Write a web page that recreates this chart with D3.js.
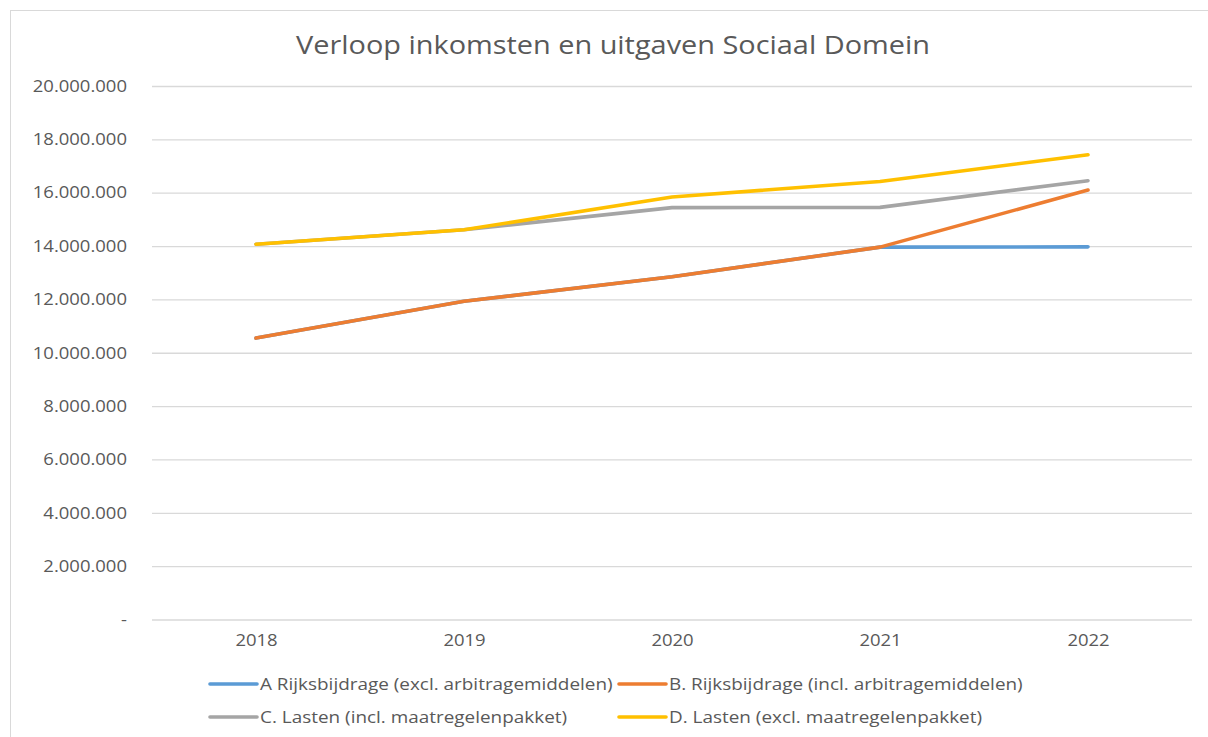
<!DOCTYPE html>
<html>
<head>
<meta charset="utf-8">
<script src="https://cdn.jsdelivr.net/npm/d3@7"></script>
<style>
  body { margin: 0; background: #fff; }
  svg { display: block; font-family: "Open Sans", "Noto Sans", sans-serif; }
</style>
</head>
<body>
<div id="chart"></div>
<script>
const YEARS = ["2018", "2019", "2020", "2021", "2022"];
const SERIES_NAMES = [
    "A Rijksbijdrage (excl. arbitragemiddelen)",
    "B. Rijksbijdrage (incl. arbitragemiddelen)",
    "C. Lasten (incl. maatregelenpakket)",
    "D. Lasten (excl. maatregelenpakket)"
];
const A_VALUES = [10550000, 11930000, 12850000, 13960000, 13970000];
const B_VALUES = [10550000, 11930000, 12850000, 13960000, 16100000];
const C_VALUES = [14070000, 14610000, 15440000, 15450000, 16450000];
const D_VALUES = [14070000, 14610000, 15840000, 16420000, 17420000];
const Y_TICKS = [0, 2000000, 4000000, 6000000, 8000000, 10000000,
                 12000000, 14000000, 16000000, 18000000, 20000000];
const COLORS = ["#5b9bd5", "#ed7d31", "#a5a5a5", "#ffc000"];

const WIDTH = 1208;
const HEIGHT = 737;
const LEFT = 152, RIGHT = 1192, TOP = 86, BOTTOM = 619.5;

// the picture is a bit wider than tall, so text gets stretched sideways
function stretch(sel, factor) {
    sel.each(function() {
        const w = this.getComputedTextLength();
        d3.select(this)
          .attr('textLength', w * factor)
          .attr('lengthAdjust', 'spacingAndGlyphs');
    });
}

const svg = d3.select('#chart')
    .append('svg')
    .attr('width', WIDTH)
    .attr('height', HEIGHT);

// chart area border
svg.append('rect')
   .attr('x', 10.5).attr('y', 10.5)
   .attr('width', WIDTH + 20).attr('height', HEIGHT + 20)
   .attr('fill', 'none')
   .attr('stroke', '#d9d9d9');

const title = svg.append('text')
   .attr('x', 613)
   .attr('y', 54)
   .attr('text-anchor', 'middle')
   .attr('font-size', '25px')
   .attr('fill', '#595959')
   .text('Verloop inkomsten en uitgaven Sociaal Domein');
stretch(title, 1.155);

const xScale = d3.scalePoint()
    .domain(YEARS)
    .range([LEFT, RIGHT])
    .padding(0.5);

const yScale = d3.scaleLinear()
    .domain([0, 20000000])
    .range([BOTTOM, TOP]);

const fmt = (v) => v === 0 ? '-' : d3.format(',')(v).replace(/,/g, '.');

// gridlines + y labels
const yAxis = d3.axisLeft(yScale)
    .tickValues(Y_TICKS)
    .tickSize(-(RIGHT - LEFT))
    .tickPadding(25)
    .tickFormat(fmt);

const yG = svg.append('g')
    .attr('transform', 'translate(' + LEFT + ',0)')
    .call(yAxis);
yG.select('.domain').remove();
yG.selectAll('line').attr('stroke', '#d9d9d9').attr('stroke-width', 1.3);
yG.selectAll('text')
  .attr('font-size', '16.5px')
  .attr('fill', '#595959')
  .attr('font-family', '"Open Sans", sans-serif');
stretch(yG.selectAll('text'), 1.12);

const xAxis = d3.axisBottom(xScale).tickSize(0).tickPadding(15);
const xG = svg.append('g')
    .attr('transform', 'translate(0,' + BOTTOM + ')')
    .call(xAxis);
xG.select('.domain').remove();
xG.selectAll('text')
  .attr('font-size', '16.5px')
  .attr('fill', '#595959')
  .attr('font-family', '"Open Sans", sans-serif');
stretch(xG.selectAll('text'), 1.12);

const allSeries = [A_VALUES, B_VALUES, C_VALUES, D_VALUES];

const line = d3.line()
    .x((d, i) => xScale(YEARS[i]))
    .y((d) => yScale(d));

allSeries.forEach((vals, k) => {
    svg.append('path')
       .datum(vals)
       .attr('d', line)
       .attr('fill', 'none')
       .attr('stroke', COLORS[k])
       .attr('stroke-width', 3.6)
       .attr('stroke-linecap', 'round')
       .attr('stroke-linejoin', 'round');
});

// legend
const legendPos = [[210, 684], [619, 684], [210, 717], [619, 717]];
SERIES_NAMES.forEach((name, k) => {
    const [lx, ly] = legendPos[k];
    svg.append('line')
       .attr('x1', lx).attr('x2', lx + 47)
       .attr('y1', ly).attr('y2', ly)
       .attr('stroke', COLORS[k])
       .attr('stroke-width', 3.6)
       .attr('stroke-linecap', 'round');
    const t = svg.append('text')
       .attr('x', lx + 50)
       .attr('y', ly + 5.5)
       .attr('font-size', '15.5px')
       .attr('fill', '#595959')
       .text(name);
    stretch(t, 1.22);
});
</script>
</body>
</html>
